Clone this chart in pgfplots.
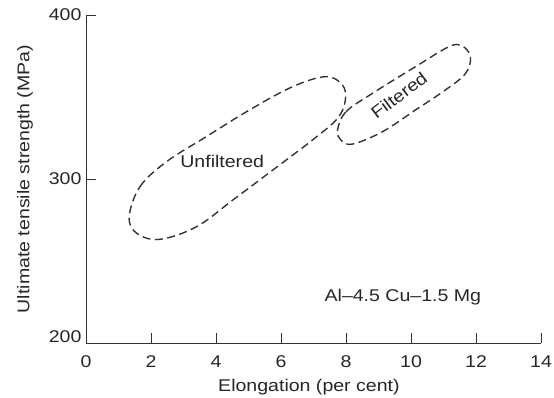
\documentclass[border=0pt]{standalone}
\usepackage{pgfplots}
\pgfplotsset{compat=1.18}
\usepackage{fontspec}
\setmainfont{Liberation Sans}[FakeStretch=1.15]
\newcommand{\fs}{\fontsize{17}{20}\selectfont}
\begin{document}
\begin{tikzpicture}
\useasboundingbox (-86pt,-55pt) rectangle (468pt,343pt);
\begin{axis}[
  at={(0,0)}, anchor=south west,
  scale only axis, width=455pt, height=328pt,
  xmin=0, xmax=14, ymin=200, ymax=400,
  axis lines=left, axis line style={-, line width=0.9pt, black!80},
  xtick={0,2,...,14}, ytick={300,400},
  extra y ticks={200},
  extra y tick style={yticklabel style={yshift=6pt}},
  tick align=inside, major tick length=10pt,
  tick style={line width=0.9pt, black!80},
  /pgf/number format/assume math mode=true,
  ticklabel style={font=\fs, text=black!85},
  xticklabel style={yshift=-9pt},
  yticklabel style={xshift=-1pt},
  label style={font=\fs, text=black!85},
  xlabel={Elongation (per cent)},
  ylabel={Ultimate tensile strength (MPa)},
  xlabel style={at={(axis description cs:0.49,-0.134)}, anchor=center},
  ylabel style={at={(axis description cs:-0.134,0.5)}, anchor=center},
  clip=false,
]
\addplot[black!80, line width=1.4pt, dash pattern=on 8pt off 4.5pt, smooth cycle, tension=0.6] coordinates {
(1.33,277.0) (1.66,295.3) (2.48,310.6) (3.70,325.8) (5.03,342.1) (6.36,356.3)
(7.38,362.4) (7.89,357.3) (7.98,348.2) (7.74,337.0) (6.97,323.8) (5.75,305.5)
(4.52,287.2) (3.40,270.9) (2.27,263.2) (1.56,266.9)
};
\addplot[black!80, line width=1.4pt, dash pattern=on 8pt off 4.5pt, smooth cycle, tension=0.6] coordinates {
(7.74,329.9) (8.00,341.0) (8.82,352.3) (10.14,368.5) (11.17,380.7) (11.57,381.1)
(11.83,374.6) (11.68,364.4) (11.06,354.3) (10.14,342.1) (9.12,328.8) (8.20,321.3)
(7.84,323.8)
};
\node[font=\fs, text=black!85] at (axis cs:4.19,310.5) {Unfiltered};
\node[font=\fs, text=black!85, rotate=37] at (axis cs:9.63,351) {Filtered};
\node[font=\fs, text=black!85] at (axis cs:9.75,228) {Al--4.5 Cu--1.5 Mg};
\end{axis}
\end{tikzpicture}
\end{document}
